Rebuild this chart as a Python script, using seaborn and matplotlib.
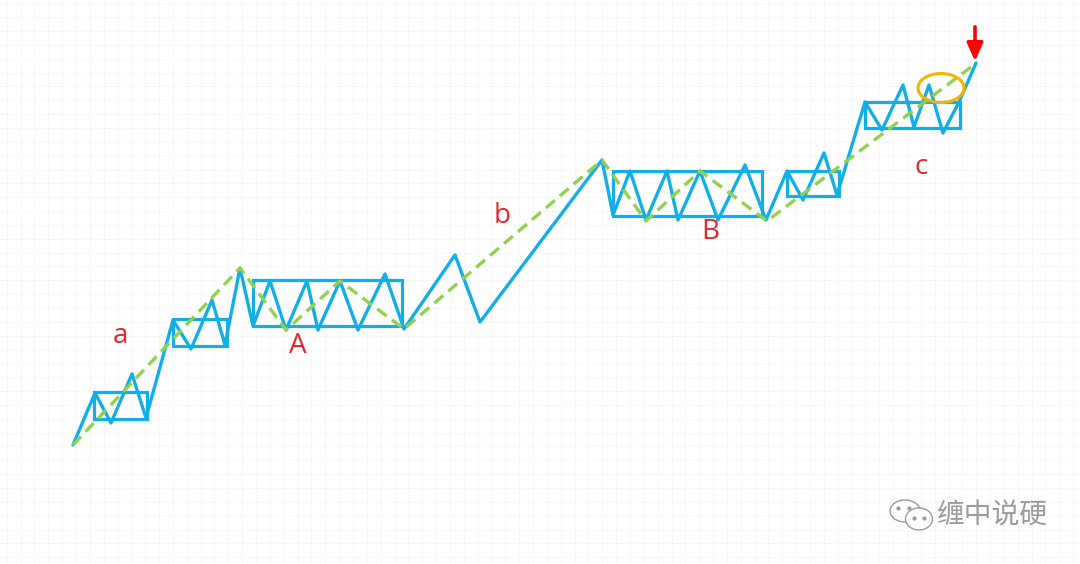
import numpy as np
import pandas as pd
import seaborn as sns
import matplotlib.pyplot as plt
from matplotlib.patches import Rectangle, Ellipse


# price path (blue), pixel-like units, y grows downward
PATH_X = [73, 95, 111, 132, 146, 173, 191, 212, 225, 240, 253, 270, 286, 307,
          318, 340, 358, 385, 404, 455, 480, 602, 613, 630, 646, 667, 678, 700,
          718, 745, 766, 787, 803, 824, 837, 865, 882, 903, 914, 929, 943, 959,
          976]
PATH_Y = [445, 393, 423, 374, 418, 320, 349, 300, 345, 268, 326, 281, 330, 281,
          330, 281, 330, 274, 329, 255, 322, 160, 215, 171, 220, 171, 220, 171,
          220, 165, 220, 171, 200, 153, 195, 102, 130, 85, 127, 85, 133, 102,
          63]

# trend (green dashed)
TREND_X = [73, 240, 286, 340, 404, 602, 646, 700, 767, 975]
TREND_Y = [445, 268, 330, 281, 329, 160, 221, 171, 221, 64]

# consolidation boxes: left, top, right, bottom
BOX_X0 = [94, 173, 253, 613, 787, 865]
BOX_Y0 = [392, 319, 280, 171, 171, 102]
BOX_X1 = [147, 227, 402, 762, 839, 960]
BOX_Y1 = [419, 346, 326, 216, 196, 128]

LABELS = ["a", "A", "b", "B", "c"]
LABEL_X = [120, 298, 502, 710, 921]
LABEL_Y = [336, 346, 216, 232, 167]

BLUE = "#12aee8"
GREEN = "#92d050"
RED = "#e8262b"
ORANGE = "#f5b400"


def main() -> None:
    sns.set_theme(style="white")
    plt.rcParams["font.family"] = ["Open Sans", "Noto Sans CJK SC", "DejaVu Sans"]

    fig = plt.figure(figsize=(10.8, 5.64), dpi=100)
    ax = fig.add_axes([0, 0, 1, 1])
    ax.set_xlim(0, 1080)
    ax.set_ylim(564, 0)

    # faint dotted background grid
    for gx in np.arange(6.7, 1080, 13.85):
        ax.axvline(gx, color="#ebebeb", lw=0.6, ls=(0, (1, 1.5)), zorder=0)
    for gy in np.arange(3.3, 564, 13.85):
        ax.axhline(gy, color="#ebebeb", lw=0.6, ls=(0, (1, 1.5)), zorder=0)

    for x0, y0, x1, y1 in zip(BOX_X0, BOX_Y0, BOX_X1, BOX_Y1):
        ax.add_patch(Rectangle((x0, y0), x1 - x0, y1 - y0, fill=False,
                               edgecolor=BLUE, lw=2.3, zorder=2))

    path = pd.DataFrame({"x": PATH_X, "y": PATH_Y})
    sns.lineplot(data=path, x="x", y="y", sort=False, estimator=None,
                 color=BLUE, lw=2.4, ax=ax, zorder=3)

    trend = pd.DataFrame({"x": TREND_X, "y": TREND_Y})
    sns.lineplot(data=trend, x="x", y="y", sort=False, estimator=None,
                 color=GREEN, lw=2.4, ax=ax, zorder=4,
                 dashes=False, linestyle=(0, (3.5, 2)))

    for lab, lx, ly in zip(LABELS, LABEL_X, LABEL_Y):
        ax.text(lx, ly, lab, color=RED, fontsize=20, ha="center", va="center",
                zorder=5)

    # highlight + arrow at the end
    ax.add_patch(Ellipse((941, 88), 46, 29, fill=False, edgecolor=ORANGE,
                         lw=2.2, zorder=5))
    ax.annotate("", xy=(975, 64), xytext=(975, 24),
                arrowprops=dict(arrowstyle="-|>,head_width=0.4,head_length=0.9",
                                color="#ff0000", lw=2.6), zorder=6)

    # watermark
    wm = "#9a9a9a"
    ax.add_patch(Ellipse((905, 511), 30, 22, fill=False, edgecolor=wm, lw=1.0))
    ax.add_patch(Ellipse((919, 519), 27, 22, facecolor="white", edgecolor=wm,
                         lw=1.0))
    for ex, ey in [(898, 508), (909, 508), (914, 518), (924, 518)]:
        ax.plot(ex, ey, "o", ms=2, color=wm)
    ax.text(992, 516, "缠中说硬", color=wm, fontsize=20, ha="center",
            va="center", family=["Noto Sans CJK SC", "DejaVu Sans"])

    ax.set_axis_off()
    fig.patch.set_facecolor("white")
    fig.savefig("out.png", dpi=100)


if __name__ == "__main__":
    main()
